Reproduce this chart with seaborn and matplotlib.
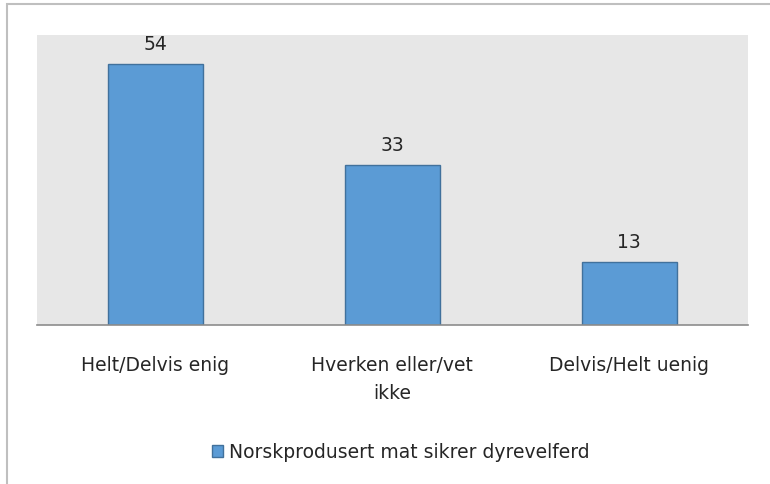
import matplotlib
matplotlib.use("Agg")
import matplotlib.pyplot as plt
import seaborn as sns
import pandas as pd
from matplotlib.patches import Rectangle, Patch

categories = ["Helt/Delvis enig", "Hverken eller/vet\nikke", "Delvis/Helt uenig"]
values = [54, 33, 13]
series_name = "Norskprodusert mat sikrer dyrevelferd"

df = pd.DataFrame({"kategori": categories, "prosent": values})

sns.set_style("white")
plt.rcParams["font.family"] = ["DejaVu Sans"]

fig = plt.figure(figsize=(7.7, 4.85), dpi=100)
ax = fig.add_axes([0.048, 0.328, 0.923, 0.598])

sns.barplot(data=df, x="kategori", y="prosent", color="#5B9BD5",
            saturation=1, width=0.4, edgecolor="#41719C", linewidth=1, ax=ax)

ax.set_facecolor("#E7E7E7")
ax.set_ylim(0, 60)
ax.set_yticks([])
ax.set_xlabel("")
ax.set_ylabel("")
for s in ["top", "right", "left"]:
    ax.spines[s].set_visible(False)
ax.spines["bottom"].set_color("#8C8C8C")
ax.spines["bottom"].set_linewidth(1.2)
ax.tick_params(axis="x", length=0, pad=22, labelsize=13.5, colors="#262626")
for lbl in ax.get_xticklabels():
    lbl.set_linespacing(1.6)

for i, v in enumerate(values):
    ax.annotate(str(v), (i, v), xytext=(0, 8), textcoords="offset points",
                ha="center", va="bottom", fontsize=13.5, color="#262626")

handle = Patch(facecolor="#5B9BD5", edgecolor="#41719C", label=series_name)
fig.legend(handles=[handle], loc="center", bbox_to_anchor=(0.52, 0.066),
           frameon=False, fontsize=13.5, handlelength=0.6, handleheight=0.6,
           handletextpad=0.3, labelcolor="#262626")

# outer chart border
fig.patches.append(Rectangle((7 / 770, -0.1), 1.2, 1 - 5 / 485 + 0.1,
                             transform=fig.transFigure, fill=False,
                             edgecolor="#BFBFBF", linewidth=1.5))

fig.savefig("out.png", dpi=100)
